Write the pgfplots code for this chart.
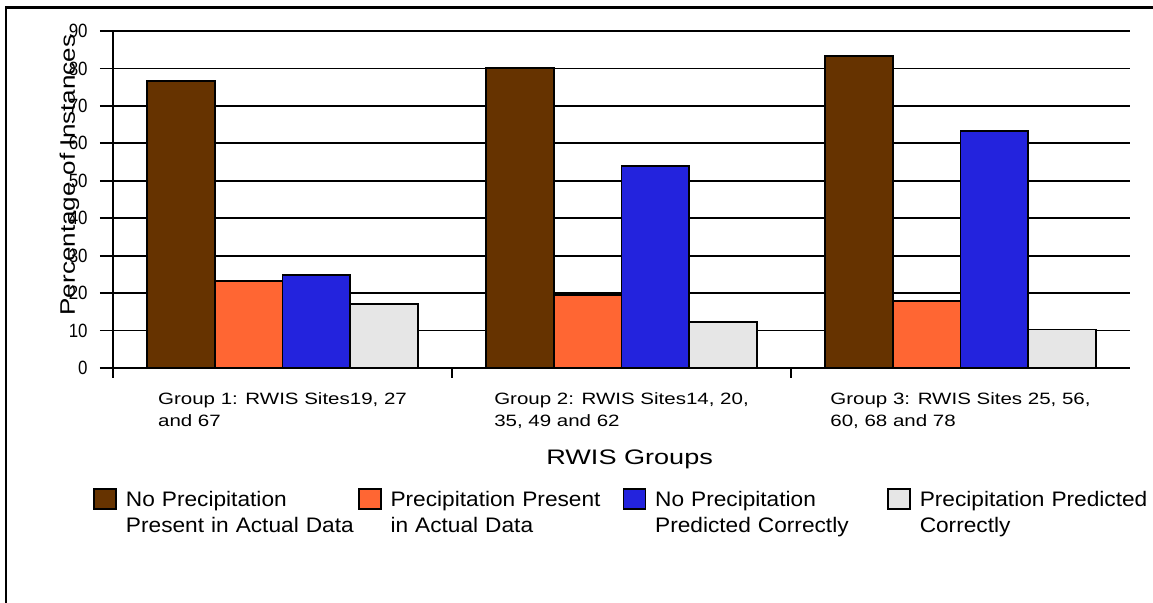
\documentclass[border=0pt]{standalone}
\usepackage{fontspec}
\setmainfont{Liberation Sans}
\newfontfamily\tickfont{Liberation Sans}[FakeStretch=0.88]
\newfontfamily\catfont{Liberation Sans}[FakeStretch=1.25]
\newfontfamily\ylabfont{Liberation Sans}[FakeStretch=1.24]
\newfontfamily\xlabfont{Liberation Sans}[FakeStretch=1.29]
\newfontfamily\legfont{Liberation Sans}[FakeStretch=1.08]
\usepackage{pgfplots}
\pgfplotsset{compat=1.18}
\definecolor{cbrown}{HTML}{663300}
\definecolor{corange}{HTML}{FF6633}
\definecolor{cblue}{HTML}{2323DD}
\definecolor{cgray}{HTML}{E6E6E6}
\begin{document}
\begin{tikzpicture}
\path[use as bounding box] (0,0) rectangle (576.5pt,-301.5pt);
\draw[line width=1.35pt] (3pt,-301.5pt) -- (3pt,-3.6pt) -- (576.5pt,-3.6pt);
\begin{axis}[
  at={(56.5pt,-184pt)}, anchor=south west,
  scale only axis, width=508.5pt, height=168.5pt,
  ybar, bar width=0.2,
  xmin=-0.5, xmax=2.5, ymin=0, ymax=90,
  enlargelimits=false,
  axis x line*=bottom, axis y line*=left,
  axis line style={line width=1pt, black},
  tick align=outside,
  major tick length=6.5pt,
  tick style={black, line width=0.9pt},
  ytick={0,10,...,90},
  xtick={0,1,2},
  xtick style={draw=none},
  extra x ticks={-0.5,0.5,1.5},
  extra x tick labels={},
  extra x tick style={xtick style={draw=black, /pgfplots/major tick length=5pt}},
  xticklabels={{Group 1: RWIS Sites19, 27\\and 67},{Group 2: RWIS Sites14, 20,\\35, 49 and 62},{Group 3: RWIS Sites 25, 56,\\60, 68 and 78}},
  xticklabel style={font=\fontsize{8.2pt}{11pt}\selectfont\catfont, align=left, anchor=north, inner sep=0pt, yshift=-5.5pt},
  yticklabel style={font=\fontsize{9.6pt}{11pt}\selectfont\tickfont, inner sep=0pt, anchor=east, xshift=-6pt},
  /pgf/number format/assume math mode=true,
  ymajorgrids, grid style={black, line width=0.9pt},
  ylabel={Percentage of Instances},
  ylabel style={font=\fontsize{10.5pt}{12pt}\selectfont\ylabfont, at={(axis description cs:-0.0374,0.5727)}, anchor=base},
  xlabel={RWIS Groups},
  xlabel style={font=\fontsize{10.5pt}{12pt}\selectfont\xlabfont, at={(axis description cs:0.508,-0.2878)}, anchor=base},
  legend columns=4,
  legend cell align=left,
  legend image code/.code={\draw[#1, draw=black, line width=0.8pt] (0pt,-1.5pt) rectangle (11pt,8.5pt);},
  legend style={at={(axis description cs:-0.0197,-0.3516)}, anchor=north west, draw=none, fill=none, inner sep=0pt,
    font=\fontsize{10.5pt}{13pt}\selectfont\legfont,
    cells={anchor=base west},
    nodes={text width=114pt, align=left, inner sep=2pt},
    /tikz/every odd column/.append style={column sep=2.5pt},
    /tikz/every even column/.append style={column sep=0pt}},
]
\addplot[fill=cbrown, draw=black, line width=0.9pt, bar shift=-0.3] coordinates {(0,76.7) (1,80.2) (2,83.4)};
\addlegendentry{\mbox{No Precipitation}\\\mbox{Present in Actual Data}}
\addplot[fill=corange, draw=black, line width=0.9pt, bar shift=-0.1] coordinates {(0,23.2) (1,19.6) (2,18.0)};
\addlegendentry{\mbox{Precipitation Present}\\\mbox{in Actual Data}}
\addplot[fill=cblue, draw=black, line width=0.9pt, bar shift=0.1] coordinates {(0,24.8) (1,53.9) (2,63.2)};
\addlegendentry{\mbox{No Precipitation}\\\mbox{Predicted Correctly}}
\addplot[fill=cgray, draw=black, line width=0.9pt, bar shift=0.3] coordinates {(0,17.1) (1,12.3) (2,10.3)};
\addlegendentry{\mbox{Precipitation Predicted}\\\mbox{Correctly}}
\end{axis}
\end{tikzpicture}
\end{document}
